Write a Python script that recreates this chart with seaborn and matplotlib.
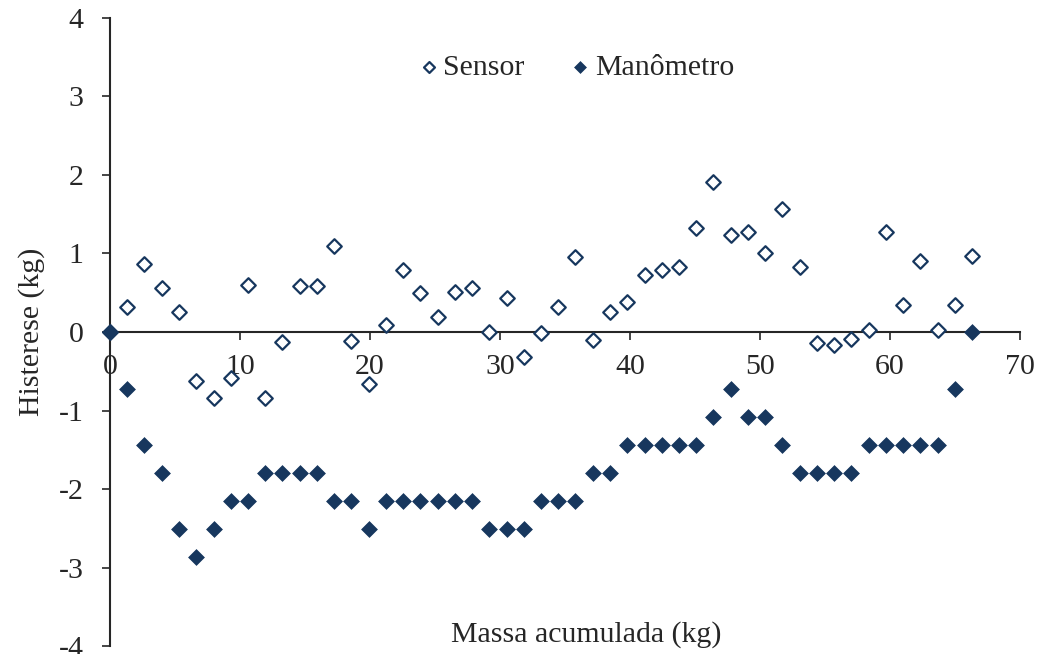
import matplotlib
matplotlib.use("Agg")
import matplotlib.pyplot as plt
import seaborn as sns
import pandas as pd

# accumulated mass (kg)
massa = [0.00, 1.33, 2.65, 3.98, 5.30, 6.63, 7.96, 9.28, 10.61, 11.93,
         13.26, 14.59, 15.91, 17.24, 18.56, 19.89, 21.22, 22.54, 23.87, 25.19,
         26.52, 27.85, 29.17, 30.50, 31.82, 33.15, 34.48, 35.80, 37.13, 38.45,
         39.78, 41.11, 42.43, 43.76, 45.08, 46.41, 47.74, 49.06, 50.39, 51.71,
         53.04, 54.37, 55.69, 57.02, 58.34, 59.67, 61.00, 62.32, 63.65, 64.97,
         66.30]

sensor = [0.00, 0.32, 0.87, 0.56, 0.26, -0.63, -0.84, -0.59, 0.60, -0.84,
          -0.13, 0.59, 0.58, 1.10, -0.11, -0.66, 0.09, 0.79, 0.50, 0.19,
          0.51, 0.56, 0.00, 0.43, -0.32, -0.01, 0.32, 0.95, -0.10, 0.25,
          0.38, 0.72, 0.79, 0.83, 1.32, 1.91, 1.23, 1.28, 1.01, 1.57,
          0.83, -0.14, -0.16, -0.09, 0.02, 1.28, 0.34, 0.90, 0.02, 0.34,
          0.97]

manometro = [0.00, -0.72, -1.44, -1.80, -2.51, -2.87, -2.51, -2.15, -2.15, -1.80,
             -1.80, -1.80, -1.80, -2.15, -2.15, -2.51, -2.15, -2.15, -2.15, -2.15,
             -2.15, -2.15, -2.51, -2.51, -2.51, -2.15, -2.15, -2.15, -1.80, -1.80,
             -1.44, -1.44, -1.44, -1.44, -1.44, -1.08, -0.72, -1.08, -1.08, -1.44,
             -1.80, -1.80, -1.80, -1.80, -1.44, -1.44, -1.44, -1.44, -1.44, -0.72,
             0.00]

navy = "#17375E"

sns.set_style("ticks")
plt.rcParams["font.family"] = ["Liberation Serif", "DejaVu Serif"]
plt.rcParams["axes.unicode_minus"] = False

df = pd.DataFrame({"massa": massa, "Sensor": sensor, "Manômetro": manometro})

fig = plt.figure(figsize=(10.42, 6.54), dpi=100)
ax = fig.add_axes([0.1056, 0.0122, 0.8734, 0.9603])

sns.scatterplot(data=df, x="massa", y="Sensor", ax=ax, marker="D", s=55,
                facecolor="white", edgecolor=navy, linewidth=1.6,
                label="Sensor", clip_on=False, zorder=3)
sns.scatterplot(data=df, x="massa", y="Manômetro", ax=ax, marker="D", s=65,
                color=navy, edgecolor=navy, linewidth=0.5,
                label="Manômetro", clip_on=False, zorder=4)

ax.set_xlim(0, 70)
ax.set_ylim(-4, 4)
ax.set_xticks(range(0, 71, 10))
ax.set_yticks(range(-4, 5))

ax.spines["top"].set_visible(False)
ax.spines["right"].set_visible(False)
ax.spines["bottom"].set_position(("data", 0))
ax.spines["left"].set_linewidth(1.5)
ax.spines["bottom"].set_linewidth(1.5)

ax.tick_params(axis="both", labelsize=21.5, length=6, width=1.2, direction="out")
ax.tick_params(axis="y", pad=13)
ax.tick_params(axis="x", pad=10)

ax.set_xlabel("")
ax.set_ylabel("Histerese (kg)", fontsize=21.5, labelpad=10)
ax.text(36.6, -4.03, "Massa acumulada (kg)", fontsize=21.5,
        ha="center", va="bottom")

leg = ax.legend(loc="upper center", bbox_to_anchor=(0.513, 0.985), ncol=2,
                frameon=False, fontsize=21.5, handlelength=0.6,
                handletextpad=0.2, columnspacing=1.55, markerscale=0.75)

fig.savefig("out.png", dpi=100)
